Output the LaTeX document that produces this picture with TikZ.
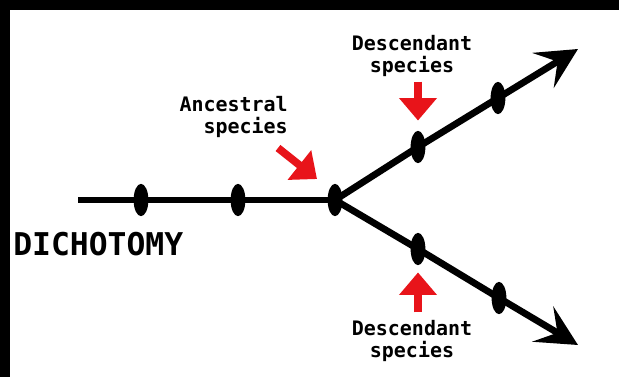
\documentclass[tikz,border=0pt]{standalone}
\usepackage{fontspec}
\usepackage{tikz}
\usetikzlibrary{positioning,arrows.meta,calc,shapes.geometric}
\newfontfamily\monob{DejaVu Sans Mono}
\definecolor{ar}{HTML}{E8141A}

\begin{document}
\begin{tikzpicture}[x=0.025cm,y=-0.025cm,
  bead/.style={ellipse,fill=black,minimum width=10.5pt,minimum height=23pt,inner sep=0pt},
  branch/.style={line width=4.8pt,black,line join=round},
  redarr/.style={line width=5.5pt,ar,-{Triangle[length=16pt,width=26pt]}},
  lbl/.style={font=\monob\bfseries\fontsize{14.2}{15.6}\selectfont,inner sep=0pt}]
  \useasboundingbox (0,0) rectangle (619,377);
  \fill[black] (0,0) rectangle (619,377);
  \fill[white] (10,10) rectangle (619,377);
  % beads on the lineage
  \node[bead] (a1) at (141,200) {};
  \node[bead] (a2) at (238,200) {};
  \node[bead] (a3) at (335,200) {};
  \node[bead] (u1) at (418,147) {};
  \node[bead] (u2) at (498,98) {};
  \node[bead] (d1) at (418,249) {};
  \node[bead] (d2) at (499,298) {};
  \coordinate (s) at (78,200);\coordinate (ut) at (578,49);\coordinate (dt) at (578,345);
  \draw[branch] (s)--(a1.center)--(a2.center)--(a3.center);
  \draw[branch,-{Stealth[length=29pt,width=29pt,inset=12pt]}] (a3.center)--(u1.center)--(u2.center)--(ut);
  \draw[branch,-{Stealth[length=29pt,width=29pt,inset=12pt]}] (a3.center)--(d1.center)--(d2.center)--(dt);
  % labels
  \node[lbl,align=right,anchor=base east] (anc) at (288,133) {Ancestral\\species};
  \node[lbl,align=center,anchor=base] (dtop) at (412,72) {Descendant\\species};
  \node[lbl,align=center,anchor=base] (dbot) at (412,357) {Descendant\\species};
  \node[font=\monob\bfseries\fontsize{22.3}{24}\selectfont,inner sep=0pt,anchor=base west] (dich) at (13,255) {DICHOTOMY};
  % red pointers
  \coordinate (atail) at (278,148);\coordinate (atip) at (317,179);
  \draw[redarr] (atail)--(atip);
  \draw[redarr] ($(u1.north)+(0,-49)$) coordinate (utail)--($(u1.north)+(0,-10)$) coordinate (utip);
  \draw[redarr] ($(d1.south)+(0,47)$) coordinate (dtail)--($(d1.south)+(0,7)$) coordinate (dtip);
\end{tikzpicture}
\end{document}
